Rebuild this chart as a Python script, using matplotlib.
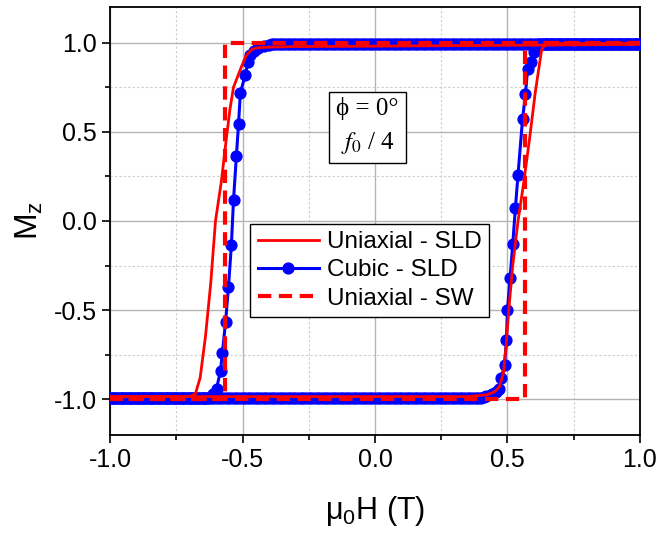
import numpy as np
import matplotlib
matplotlib.use("Agg")
import matplotlib.pyplot as plt
from matplotlib.ticker import MultipleLocator

plt.rcParams['font.family'] = ['Liberation Sans', 'DejaVu Sans']
plt.rcParams['mathtext.fontset'] = 'stix'

# Uniaxial - SLD (red solid), field swept down then up
uni_down_H = [1.0, 0.5, 0.0, -0.3, -0.40, -0.45, -0.466, -0.485, -0.504, -0.534,
              -0.548, -0.562, -0.58, -0.602, -0.62, -0.64, -0.66, -0.678, -0.70, -1.0]
uni_down_M = [0.99, 0.985, 0.98, 0.978, 0.975, 0.97, 0.96, 0.93, 0.865, 0.75,
              0.62, 0.45, 0.22, 0.0, -0.35, -0.65, -0.88, -0.97, -0.985, -0.985]
uni_up_H = [-1.0, 0.0, 0.35, 0.42, 0.45, 0.47, 0.485, 0.495, 0.505, 0.52,
            0.54, 0.56, 0.583, 0.605, 0.629, 0.64, 0.70, 1.0]
uni_up_M = [-0.985, -0.985, -0.985, -0.975, -0.96, -0.93, -0.85, -0.70, -0.50, -0.25,
            0.0, 0.2, 0.455, 0.72, 0.96, 0.985, 0.995, 0.995]

# Cubic - SLD (blue, markers), sweep step 0.01 T on the plateaus
cubic_down_plateau_H = np.round(np.arange(1.0, -0.395, -0.01), 2)
cubic_down_plateau_M = 0.99
cubic_down_H = [-0.40, -0.42, -0.44, -0.455, -0.47, -0.48, -0.489, -0.508, -0.515, -0.523,
                -0.534, -0.542, -0.553, -0.564, -0.576, -0.583, -0.598, -0.61, -0.62]
cubic_down_M = [0.985, 0.98, 0.97, 0.955, 0.93, 0.89, 0.82, 0.72, 0.545, 0.365,
                0.118, -0.135, -0.37, -0.567, -0.74, -0.84, -0.94, -0.97, -0.985]
cubic_down_tail_H = np.round(np.arange(-0.63, -1.005, -0.01), 2)
cubic_down_tail_M = -0.995

cubic_up_plateau_H = np.round(np.arange(-1.0, 0.405, 0.01), 2)
cubic_up_plateau_M = -0.99
cubic_up_H = [0.41, 0.42, 0.44, 0.455, 0.47, 0.477, 0.489, 0.496, 0.50, 0.51,
              0.52, 0.53, 0.54, 0.557, 0.568, 0.576, 0.59, 0.602, 0.61]
cubic_up_M = [-0.985, -0.98, -0.97, -0.96, -0.94, -0.88, -0.81, -0.67, -0.50, -0.32,
              -0.13, 0.07, 0.26, 0.57, 0.71, 0.85, 0.89, 0.95, 0.98]
cubic_up_tail_H = np.round(np.arange(0.62, 1.005, 0.01), 2)
cubic_up_tail_M = 0.995

# Uniaxial - SW (red dashed)
sw_down_H = [1.0, -0.565, -0.565, -1.0]
sw_down_M = [1.0, 1.0, -1.0, -1.0]
sw_up_H = [-1.0, 0.565, 0.565, 1.0]
sw_up_M = [-1.0, -1.0, 1.0, 1.0]

fig = plt.figure(figsize=(6.59, 5.35), dpi=100)
ax = fig.add_axes([0.167, 0.187, 0.804, 0.800])

# cubic branches
cd_H = np.concatenate([cubic_down_plateau_H, cubic_down_H, cubic_down_tail_H])
cd_M = np.concatenate([np.full(len(cubic_down_plateau_H), cubic_down_plateau_M),
                       cubic_down_M, np.full(len(cubic_down_tail_H), cubic_down_tail_M)])
cu_H = np.concatenate([cubic_up_plateau_H, cubic_up_H, cubic_up_tail_H])
cu_M = np.concatenate([np.full(len(cubic_up_plateau_H), cubic_up_plateau_M),
                       cubic_up_M, np.full(len(cubic_up_tail_H), cubic_up_tail_M)])

l1, = ax.plot(uni_down_H, uni_down_M, color='red', lw=2.0, zorder=4, label='Uniaxial - SLD')
ax.plot(uni_up_H, uni_up_M, color='red', lw=2.0, zorder=4)
l2, = ax.plot(cd_H, cd_M, color='blue', lw=2.2, marker='o', ms=7.8, zorder=3, label='Cubic - SLD')
ax.plot(cu_H, cu_M, color='blue', lw=2.2, marker='o', ms=7.8, zorder=3)
l3, = ax.plot(sw_down_H, sw_down_M, color='red', lw=3.0, dashes=(3.2, 1.8), zorder=5,
              label='Uniaxial - SW')
ax.plot(sw_up_H, sw_up_M, color='red', lw=3.0, dashes=(3.2, 1.8), zorder=5)

ax.set_xlim(-1.0, 1.0)
ax.set_ylim(-1.2, 1.2)
ax.xaxis.set_major_locator(MultipleLocator(0.5))
ax.xaxis.set_minor_locator(MultipleLocator(0.25))
ax.yaxis.set_major_locator(MultipleLocator(0.5))
ax.yaxis.set_minor_locator(MultipleLocator(0.25))
ax.grid(which='major', color='#b4b4b4', lw=1.0, ls='-')
ax.grid(which='minor', color='#cccccc', lw=0.8, ls=(0, (2, 2)))
ax.set_axisbelow(True)
ax.tick_params(which='major', direction='out', length=6, width=1.2, labelsize=18,
               top=False, right=False)
ax.tick_params(which='minor', direction='out', length=3.5, width=1.2, top=False, right=False)
ax.xaxis.set_major_formatter(matplotlib.ticker.FormatStrFormatter('%.1f'))
ax.yaxis.set_major_formatter(matplotlib.ticker.FormatStrFormatter('%.1f'))
for s in ax.spines.values():
    s.set_linewidth(1.3)

ax.set_xlabel(r'$\mathregular{μ_0H}$ (T)', fontsize=22, labelpad=16)
ax.set_ylabel(r'$\mathregular{M_z}$', fontsize=23, labelpad=6)

leg = ax.legend(handles=[l1, l2, l3], loc='lower left', bbox_to_anchor=(0.265, 0.276),
                fontsize=17.5, frameon=True, fancybox=False, framealpha=1,
                edgecolor='black', handlelength=2.5, handletextpad=0.35,
                borderpad=0.3, labelspacing=0.25, borderaxespad=0)
leg.get_frame().set_linewidth(1.0)
leg.set_zorder(10)

ax.text(-0.028, 0.53, 'ϕ = 0°\n' + r'$f_0$ / 4', fontsize=18, ha='center', va='center',
        family=['Liberation Serif', 'DejaVu Serif'], linespacing=1.5, zorder=9,
        bbox=dict(boxstyle='square,pad=0.3', fc='white', ec='black', lw=1.0))

fig.savefig('out.png', dpi=100)
